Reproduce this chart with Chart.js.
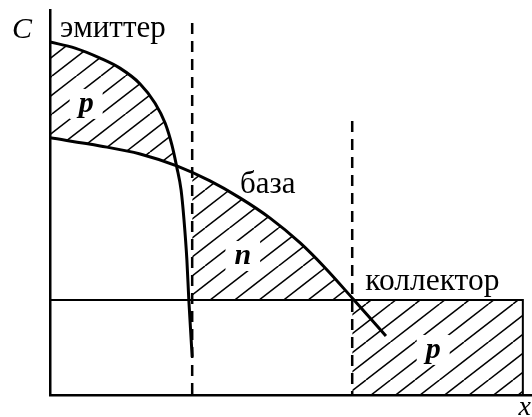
<!DOCTYPE html>
<html lang="ru">
<head>
<meta charset="UTF-8">
<title>Профиль легирования транзистора</title>
<script src="https://cdn.jsdelivr.net/npm/chart.js"></script>
<style>
  html, body { margin:0; padding:0; background:#fff; }
  .wrap { width:532px; height:417px; position:relative; }
</style>
</head>
<body>
<div class="wrap"><canvas id="chart"></canvas></div>
<script>
// points: depth x and concentration C, arbitrary units 0..10
const emitterX = [0, 0.52, 1.04, 1.45, 1.87, 2.18, 2.39, 2.53, 2.63, 2.72, 2.78, 2.84, 2.88, 2.95];
const emitterC = [9.17, 9.01, 8.75, 8.49, 8.08, 7.58, 7.06, 6.49, 5.92, 5.32, 4.55, 3.51, 2.47, 0.99];
const baseX = [0, 1.04, 1.87, 2.63, 3.32, 3.94, 4.56, 5.19, 5.71, 6.27, 6.97];
const baseC = [6.68, 6.47, 6.26, 5.95, 5.56, 5.12, 4.60, 3.95, 3.30, 2.52, 1.53];
const collectorC = 2.47;
const collectorEnd = 9.81;
const junctions = [2.95, 6.27];   // emitter|base, base|collector
const dashTops = [9.66, 7.12];

// labels, in the same units
const notes = [
  { text: 'C', x: -0.58, y: 9.48, font: 'italic 30px "Liberation Serif"', align: 'center', base: 'middle' },
  { text: 'эмиттер', x: 0.21, y: 9.30, font: '31px "Liberation Serif"', align: 'left', base: 'alphabetic' },
  { text: 'база', x: 3.94, y: 5.25, font: '31px "Liberation Serif"', align: 'left', base: 'alphabetic' },
  { text: 'коллектор', x: 6.54, y: 2.73, font: '31.5px "Liberation Serif"', align: 'left', base: 'alphabetic' },
  { text: 'p', x: 0.75, y: 7.56, font: 'italic bold 30px "Liberation Serif"', align: 'center', base: 'middle', clear: true },
  { text: 'n', x: 4.00, y: 3.61, font: 'italic bold 30px "Liberation Serif"', align: 'center', base: 'middle', clear: true },
  { text: 'p', x: 7.95, y: 1.17, font: 'italic bold 30px "Liberation Serif"', align: 'center', base: 'middle', clear: true },
  { text: 'x', x: 9.85, y: -0.34, font: 'italic 28px "Liberation Serif"', align: 'center', base: 'middle' }
];

const pts = (xs, ys) => xs.map((v, i) => ({ x: v, y: ys[i] }));

// diagonal hatching, phase shifts the lines sideways
function hatch(phase) {
  const c = document.createElement('canvas');
  c.width = 49; c.height = 38;
  const g = c.getContext('2d');
  g.strokeStyle = '#000';
  g.lineWidth = 1.5;
  for (let k = -3; k <= 3; k++) {
    g.beginPath();
    g.moveTo(k * 24.5, 38);
    g.lineTo(k * 24.5 + 49, 0);
    g.stroke();
  }
  const p = g.createPattern(c, 'repeat');
  p.setTransform(new DOMMatrix().translate(phase, 0));
  return p;
}

const notesPlugin = {
  id: 'notes',
  afterDatasetsDraw(chart) {
    const { ctx, scales: { x, y } } = chart;
    ctx.save();
    for (const n of notes) {
      const px = x.getPixelForValue(n.x), py = y.getPixelForValue(n.y);
      ctx.font = n.font;
      ctx.textAlign = n.align;
      ctx.textBaseline = n.base;
      if (n.clear) {
        const w = ctx.measureText(n.text).width;
        ctx.fillStyle = '#fff';
        ctx.fillRect(px - w / 2 - 9, py - 15, w + 18, 30);
      }
      ctx.fillStyle = '#000';
      ctx.fillText(n.text, px, py);
    }
    ctx.restore();
  }
};

const dashed = (x, top) => ({
  data: [{ x: x, y: top }, { x: x, y: 0 }],
  borderColor: '#000', borderWidth: 2.5, borderDash: [11, 7], fill: false
});

new Chart(document.getElementById('chart'), {
  type: 'line',
  data: {
    datasets: [
      { // emitter profile, p region above the base profile
        data: pts(emitterX, emitterC),
        borderColor: '#000', borderWidth: 3, cubicInterpolationMode: 'monotone',
        fill: { target: 1, above: hatch(3), below: 'rgba(0,0,0,0)' }
      },
      { // base profile, n region above the collector level
        data: pts(baseX, baseC),
        borderColor: '#000', borderWidth: 3, cubicInterpolationMode: 'monotone',
        fill: { target: 3, above: hatch(9), below: 'rgba(0,0,0,0)' }
      },
      { // collector level and right edge
        data: [{ x: 0, y: collectorC }, { x: collectorEnd, y: collectorC }, { x: collectorEnd, y: 0 }],
        borderColor: '#000', borderWidth: 2, fill: false
      },
      { // level inside the base, fill target only
        data: [{ x: junctions[0], y: collectorC }, { x: junctions[1], y: collectorC }],
        borderColor: 'rgba(0,0,0,0)', borderWidth: 0, fill: false
      },
      { // collector p region
        data: [{ x: junctions[1], y: collectorC }, { x: collectorEnd, y: collectorC }],
        borderColor: 'rgba(0,0,0,0)', borderWidth: 0,
        fill: 'origin', backgroundColor: hatch(23)
      },
      dashed(junctions[0], dashTops[0]),
      dashed(junctions[1], dashTops[1])
    ]
  },
  options: {
    responsive: true,
    maintainAspectRatio: false,
    animation: false,
    events: [],
    layout: { padding: { left: 50, top: 10, right: 0, bottom: 22 } },
    elements: { point: { radius: 0 } },
    plugins: { legend: { display: false }, tooltip: { enabled: false } },
    scales: {
      x: {
        type: 'linear', min: 0, max: 10,
        grid: { display: false, drawTicks: false },
        ticks: { display: false },
        border: { display: true, color: '#000', width: 2.5 }
      },
      y: {
        min: 0, max: 10,
        grid: { display: false, drawTicks: false },
        ticks: { display: false },
        border: { display: true, color: '#000', width: 2.5 }
      }
    }
  },
  plugins: [notesPlugin]
});
</script>
</body>
</html>
